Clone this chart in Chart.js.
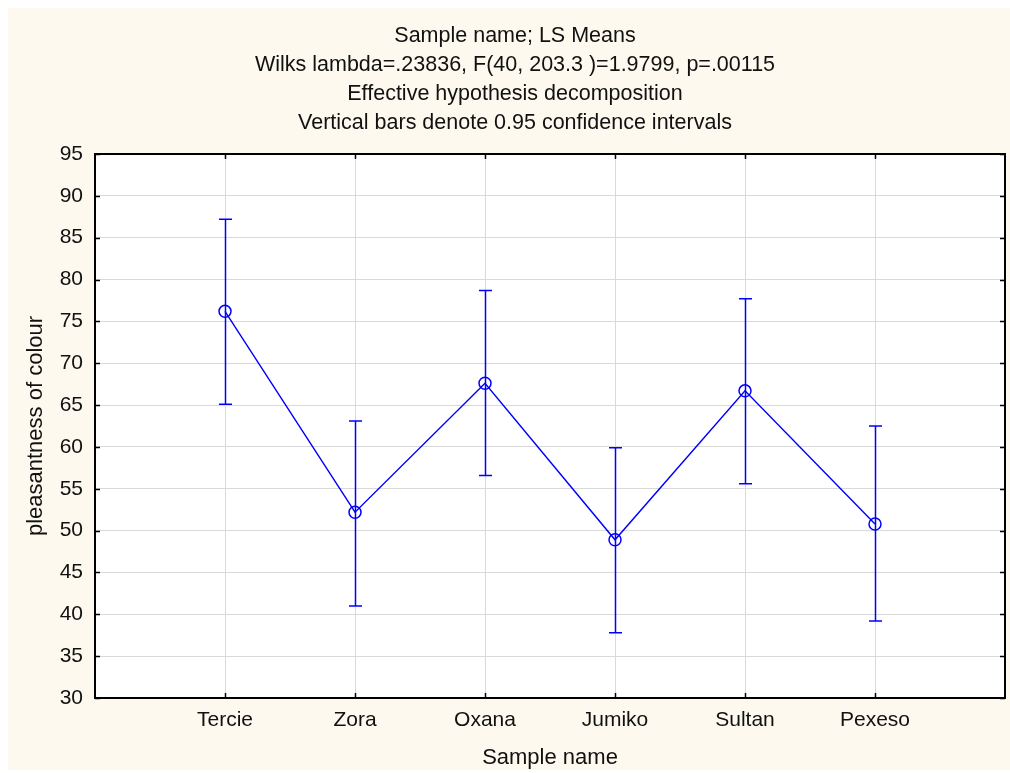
<!DOCTYPE html>
<html>
<head>
<meta charset="utf-8">
<script src="https://cdn.jsdelivr.net/npm/chart.js@4.4.1/dist/chart.umd.min.js"></script>
<style>
  html, body { margin: 0; padding: 0; background: #ffffff; }
  canvas { display: block; }
</style>
</head>
<body>
<canvas id="chart" width="1010" height="773"></canvas>
<script>
// LS means of colour pleasantness per sample, with 0.95 confidence limits
const categories = ['Tercie', 'Zora', 'Oxana', 'Jumiko', 'Sultan', 'Pexeso'];
const means      = [76.2, 52.2, 67.6, 48.9, 66.7, 50.8];
const lowerCI    = [65.1, 41.0, 56.6, 37.8, 55.6, 39.2];
const upperCI    = [87.2, 63.1, 78.7, 59.9, 77.7, 62.5];
const yMin = 30, yMax = 95, yStep = 5;

const titleLines = [
  'Sample name; LS Means',
  'Wilks lambda=.23836, F(40, 203.3 )=1.9799, p=.00115',
  'Effective hypothesis decomposition',
  'Vertical bars denote 0.95 confidence intervals'
];

// empty slots at both ends leave one category-width of margin on each side
const axisSlots = ['', ...categories, ''];
const points = means.map((m, i) => ({ x: categories[i], y: m }));

const FONT = '"Liberation Sans", Arial, Helvetica, sans-serif';
const INK = '#111111';
const BLUE = '#0000ff';

const framePlugin = {
  id: 'frame',
  beforeDraw(chart) {
    const { ctx, chartArea: a, width, height } = chart;
    ctx.save();
    ctx.fillStyle = '#ffffff';
    ctx.fillRect(0, 0, width, height);
    ctx.fillStyle = '#fdf9ee';
    ctx.fillRect(8, 8, width - 8, height - 11);
    ctx.fillStyle = '#ffffff';
    ctx.fillRect(a.left, a.top, a.right - a.left, a.bottom - a.top);
    ctx.restore();
  },
  afterDatasetsDraw(chart) {
    // confidence interval whiskers
    const { ctx, scales: { x, y } } = chart;
    const cap = 6.5;
    ctx.save();
    ctx.strokeStyle = BLUE;
    ctx.lineWidth = 1.5;
    categories.forEach((c, i) => {
      const px = Math.round(x.getPixelForValue(x.getLabels().indexOf(c))) + 0.5;
      const yl = y.getPixelForValue(lowerCI[i]);
      const yu = y.getPixelForValue(upperCI[i]);
      ctx.beginPath();
      ctx.moveTo(px, yu); ctx.lineTo(px, yl);
      ctx.moveTo(px - cap, yu); ctx.lineTo(px + cap, yu);
      ctx.moveTo(px - cap, yl); ctx.lineTo(px + cap, yl);
      ctx.stroke();
    });
    ctx.restore();
  },
  afterDraw(chart) {
    // plot frame with inward tick marks on all four sides
    const { ctx, chartArea: a, scales: { x, y } } = chart;
    const t = 5;
    ctx.save();
    ctx.strokeStyle = '#000000';
    ctx.lineWidth = 1.5;
    ctx.beginPath();
    y.ticks.forEach(tk => {
      const py = Math.round(y.getPixelForValue(tk.value)) + 0.5;
      ctx.moveTo(a.left, py); ctx.lineTo(a.left + t, py);
      ctx.moveTo(a.right, py); ctx.lineTo(a.right - t, py);
    });
    categories.forEach(c => {
      const px = Math.round(x.getPixelForValue(x.getLabels().indexOf(c))) + 0.5;
      ctx.moveTo(px, a.top); ctx.lineTo(px, a.top + t);
      ctx.moveTo(px, a.bottom); ctx.lineTo(px, a.bottom - t);
    });
    ctx.stroke();
    ctx.lineWidth = 2;
    ctx.strokeRect(a.left, a.top, a.right - a.left, a.bottom - a.top);
    ctx.restore();
  }
};

new Chart(document.getElementById('chart'), {
  type: 'line',
  data: {
    labels: axisSlots,
    datasets: [{
      data: points,
      borderColor: BLUE,
      borderWidth: 1.4,
      tension: 0,
      fill: false,
      pointRadius: 6,
      pointHoverRadius: 6,
      pointBorderWidth: 1.5,
      pointBorderColor: BLUE,
      pointBackgroundColor: 'rgba(0,0,0,0)'
    }]
  },
  options: {
    responsive: false,
    animation: false,
    devicePixelRatio: 1,
    events: [],
    layout: { autoPadding: false, padding: { left: 25, right: 5, top: 0, bottom: 0 } },
    plugins: {
      legend: { display: false },
      tooltip: { enabled: false },
      title: {
        display: true,
        text: titleLines,
        color: INK,
        font: { family: FONT, size: 21.5, weight: 'normal', lineHeight: 29 / 21.5 },
        padding: { top: 21.5, bottom: 16.5 }
      }
    },
    scales: {
      x: {
        type: 'category',
        offset: false,
        grid: { color: '#d9d9d9', lineWidth: 1, drawTicks: false },
        border: { display: false },
        ticks: { color: INK, font: { family: FONT, size: 21 }, padding: 10, autoSkip: false, maxRotation: 0 },
        title: { display: true, text: 'Sample name', color: INK, font: { family: FONT, size: 22 }, padding: { top: 0, bottom: 2 } },
        afterFit(s) { s.height = 75; s.paddingLeft = 0; s.paddingRight = 0; }
      },
      y: {
        min: yMin,
        max: yMax,
        grid: { color: '#d9d9d9', lineWidth: 1, drawTicks: false },
        border: { display: false },
        ticks: { stepSize: yStep, color: INK, font: { family: FONT, size: 21 }, padding: 12 },
        title: { display: true, text: 'pleasantness of colour', color: INK, font: { family: FONT, size: 22, lineHeight: 1 }, padding: { top: 0, bottom: 0 } },
        afterFit(s) { s.width = 70; }
      }
    }
  },
  plugins: [framePlugin]
});
</script>
</body>
</html>
